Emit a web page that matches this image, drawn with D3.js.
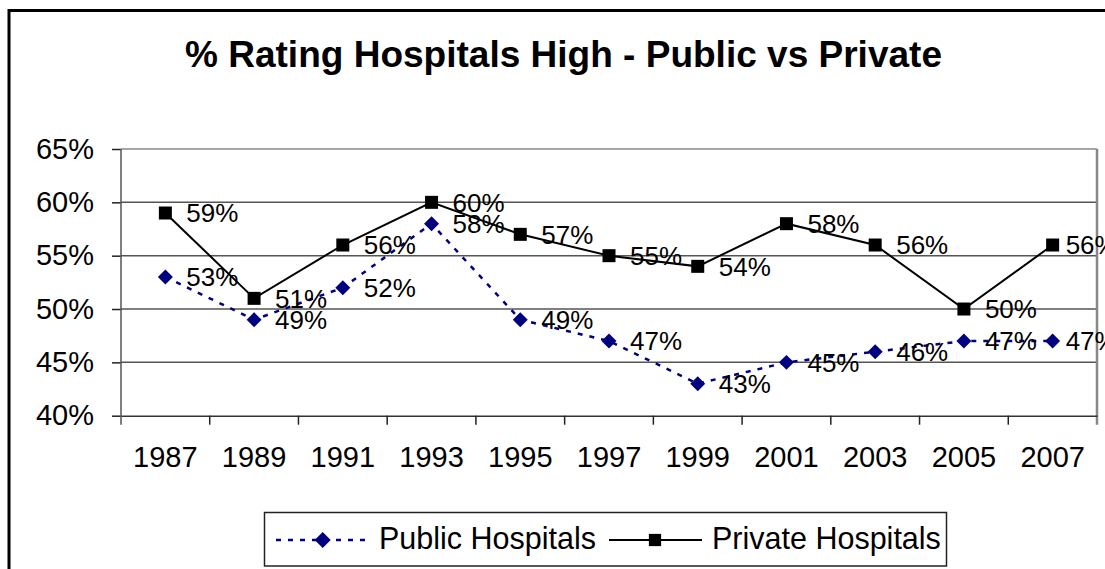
<!DOCTYPE html>
<html>
<head>
<meta charset="utf-8">
<script src="https://cdn.jsdelivr.net/npm/d3@7"></script>
<style>
  body { margin: 0; background: #fff; }
  svg { display: block; font-family: "Liberation Sans", Arial, sans-serif; }
</style>
</head>
<body>
<div id="wrapper"></div>
<script>
const years = ["1987", "1989", "1991", "1993", "1995", "1997", "1999", "2001", "2003", "2005", "2007"]
const publicValues = [53, 49, 52, 58, 49, 47, 43, 45, 46, 47, 47]
const privateValues = [59, 51, 56, 60, 57, 55, 54, 58, 56, 50, 56]
const yTicks = [40, 45, 50, 55, 60, 65]
const seriesNames = ["Public Hospitals", "Private Hospitals"]
const titleText = "% Rating Hospitals High - Public vs Private"

async function drawChart() {

  // 1. Access data
  const publicData = years.map((year, i) => ({year, value: publicValues[i], i}))
  const privateData = years.map((year, i) => ({year, value: privateValues[i], i}))
  const xAccessor = d => d.year
  const yAccessor = d => d.value

  // 2. Create chart dimensions
  let dimensions = {
    width: 1105,
    height: 569,
    margin: {
      top: 149,
      right: 8,
      bottom: 153.3,
      left: 121,
    },
  }
  dimensions.boundedWidth = dimensions.width
    - dimensions.margin.left
    - dimensions.margin.right
  dimensions.boundedHeight = dimensions.height
    - dimensions.margin.top
    - dimensions.margin.bottom

  // 3. Draw canvas
  const wrapper = d3.select("#wrapper")
    .append("svg")
      .attr("width", dimensions.width)
      .attr("height", dimensions.height)

  // outer chart frame (right/bottom run off the picture)
  wrapper.append("rect")
      .attr("x", 9)
      .attr("y", 10.5)
      .attr("width", 1120)
      .attr("height", 600)
      .attr("fill", "none")
      .attr("stroke", "#000")
      .attr("stroke-width", 3)

  wrapper.append("text")
      .attr("x", 185)
      .attr("y", 67)
      .attr("textLength", 757)
      .attr("lengthAdjust", "spacingAndGlyphs")
      .style("font-size", "36px")
      .style("font-weight", "bold")
      .text(titleText)

  const bounds = wrapper.append("g")
      .attr("transform", `translate(${dimensions.margin.left}, ${dimensions.margin.top})`)

  // 4. Create scales
  const xScale = d3.scaleBand()
    .domain(years)
    .range([0, dimensions.boundedWidth])
  const yScale = d3.scaleLinear()
    .domain([40, 65])
    .range([dimensions.boundedHeight, 0])

  // 6. Draw peripherals (gridlines under the data)
  const yAxisGenerator = d3.axisLeft(yScale)
    .tickValues(yTicks)
    .tickSize(9)
    .tickFormat(d => d + "%")
  const yAxis = bounds.append("g").call(yAxisGenerator)
  yAxis.select(".domain").remove()
  yAxis.selectAll(".tick line").attr("stroke", "#222").attr("stroke-width", 1.5)
  yAxis.selectAll(".tick text")
      .attr("x", -27)
      .attr("fill", "#000")
      .style("font-size", "29px")
      .style("font-family", "Liberation Sans, Arial, sans-serif")

  bounds.append("g")
    .selectAll("line")
    .data(yTicks.filter(d => d > 40))
    .join("line")
      .attr("x1", 0)
      .attr("x2", dimensions.boundedWidth)
      .attr("y1", d => yScale(d))
      .attr("y2", d => yScale(d))
      .attr("stroke", d => d === 65 ? "#888" : "#555")
      .attr("stroke-width", 1.5)

  // right border of plot area
  bounds.append("line")
      .attr("x1", dimensions.boundedWidth)
      .attr("x2", dimensions.boundedWidth)
      .attr("y1", 0)
      .attr("y2", dimensions.boundedHeight + 9)
      .attr("stroke", "#888")
      .attr("stroke-width", 2.5)

  bounds.append("line")
      .attr("x1", 0)
      .attr("x2", 0)
      .attr("y1", 0)
      .attr("y2", dimensions.boundedHeight + 9)
      .attr("stroke", "#555")
      .attr("stroke-width", 1.5)

  const xAxisGenerator = d3.axisBottom(xScale).tickSize(0)
  const xAxis = bounds.append("g")
      .attr("transform", `translate(0, ${dimensions.boundedHeight})`)
      .call(xAxisGenerator)
  xAxis.select(".domain").attr("stroke", "#333").attr("stroke-width", 1.5)
  xAxis.selectAll(".tick text")
      .attr("y", 31)
      .attr("dy", "0.71em")
      .attr("fill", "#000")
      .style("font-size", "29px")
      .style("font-family", "Liberation Sans, Arial, sans-serif")

  // tick marks between categories
  xAxis.append("g")
    .selectAll("line")
    .data(years.slice(1))
    .join("line")
      .attr("x1", d => xScale(d))
      .attr("x2", d => xScale(d))
      .attr("y1", 0)
      .attr("y2", 9)
      .attr("stroke", "#222")
      .attr("stroke-width", 1.5)

  // 5. Draw data
  const xCenter = d => xScale(xAccessor(d)) + xScale.bandwidth() / 2
  const line = d3.line()
    .x(xCenter)
    .y(d => yScale(yAccessor(d)))

  bounds.append("path")
      .datum(publicData)
      .attr("d", line)
      .attr("fill", "none")
      .attr("stroke", "#000080")
      .attr("stroke-width", 2.5)
      .attr("stroke-dasharray", "5 7")

  bounds.append("path")
      .datum(privateData)
      .attr("d", line)
      .attr("fill", "none")
      .attr("stroke", "#000")
      .attr("stroke-width", 2)

  const diamond = d3.symbol().type(d3.symbolSquare).size(112)
  const square = d3.symbol().type(d3.symbolSquare).size(169)

  bounds.append("g")
    .selectAll("path")
    .data(publicData)
    .join("path")
      .attr("d", diamond)
      .attr("transform", d => `translate(${xCenter(d)}, ${yScale(yAccessor(d))}) rotate(45)`)
      .attr("fill", "#000080")

  bounds.append("g")
    .selectAll("path")
    .data(privateData)
    .join("path")
      .attr("d", square)
      .attr("transform", d => `translate(${xCenter(d)}, ${yScale(yAccessor(d))})`)
      .attr("fill", "#000")

  // last labels get pushed left like excel does
  const labelX = d => xCenter(d) + (d.i === years.length - 1 ? 13 : 21)

  const labels = bounds.append("g")
      .style("font-size", "26px")
  labels.selectAll(".pub")
    .data(publicData)
    .join("text")
      .attr("class", "pub")
      .attr("x", labelX)
      .attr("y", d => yScale(yAccessor(d)))
      .attr("dy", "0.36em")
      .text(d => d.value + "%")
  labels.selectAll(".priv")
    .data(privateData)
    .join("text")
      .attr("class", "priv")
      .attr("x", labelX)
      .attr("y", d => yScale(yAccessor(d)))
      .attr("dy", "0.36em")
      .text(d => d.value + "%")

  // legend
  const legend = wrapper.append("g")
  legend.append("rect")
      .attr("x", 264.5)
      .attr("y", 512.5)
      .attr("width", 682)
      .attr("height", 53.5)
      .attr("fill", "#fff")
      .attr("stroke", "#222")
      .attr("stroke-width", 1.5)

  legend.append("line")
      .attr("x1", 276).attr("x2", 366)
      .attr("y1", 540).attr("y2", 540)
      .attr("stroke", "#000080")
      .attr("stroke-width", 2.5)
      .attr("stroke-dasharray", "5 7")
  legend.append("path")
      .attr("d", d3.symbol().type(d3.symbolSquare).size(128)())
      .attr("transform", "translate(322.7, 540) rotate(45)")
      .attr("fill", "#000080")
  legend.append("text")
      .attr("x", 379)
      .attr("y", 549)
      .style("font-size", "30.5px")
      .text(seriesNames[0])

  legend.append("line")
      .attr("x1", 609).attr("x2", 702)
      .attr("y1", 540).attr("y2", 540)
      .attr("stroke", "#000")
      .attr("stroke-width", 2)
  legend.append("path")
      .attr("d", d3.symbol().type(d3.symbolSquare).size(150)())
      .attr("transform", "translate(655, 540)")
      .attr("fill", "#000")
  legend.append("text")
      .attr("x", 712)
      .attr("y", 549)
      .style("font-size", "30.5px")
      .text(seriesNames[1])

  // 7. Interaction
}

drawChart()
</script>
</body>
</html>
